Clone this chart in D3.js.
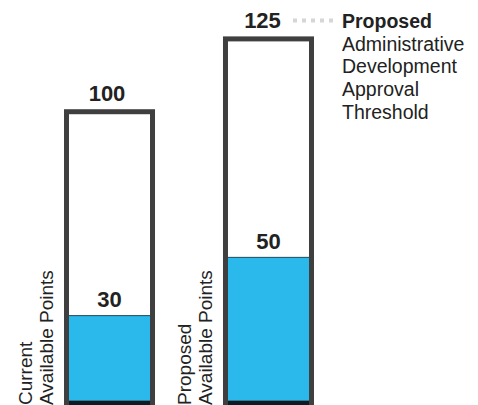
<!DOCTYPE html>
<html>
<head>
<meta charset="utf-8">
<script src="https://cdn.jsdelivr.net/npm/d3@7"></script>
<style>
  html, body { margin: 0; padding: 0; background: #fff; }
  svg { display: block; }
  text { font-family: "Liberation Sans", Arial, Helvetica, sans-serif; fill: #222; }
</style>
</head>
<body>
<svg id="chart" width="478" height="405"></svg>
<script>
// ---- data ----
const categories = ["Current", "Proposed"];
const categoryLines = [["Current", "Available Points"], ["Proposed", "Available Points"]];
const availablePoints = [30, 50];
const thresholds = [100, 125];
const legendLines = ["Proposed", "Administrative", "Development", "Approval", "Threshold"];

// ---- layout ----
const svg = d3.select("#chart");
const x = d3.scaleBand().domain(categories).range([66.5, 311.5]).paddingInner(0.459).paddingOuter(0);
const y = d3.scaleLinear().domain([0, 125]).range([403, 38.9]);
const base = y(0);

const rows = categories.map((c, i) => ({ c, v: availablePoints[i], t: thresholds[i], lines: categoryLines[i] }));

// fills
svg.selectAll("rect.fill").data(rows).join("rect")
  .attr("class", "fill")
  .attr("x", d => x(d.c))
  .attr("width", x.bandwidth())
  .attr("y", d => y(d.v))
  .attr("height", d => base - y(d.v))
  .attr("fill", "#2bb8ea")
  .attr("stroke", "#1f4a5c")
  .attr("stroke-width", 1);

// frames
svg.selectAll("rect.frame").data(rows).join("rect")
  .attr("class", "frame")
  .attr("x", d => x(d.c))
  .attr("width", x.bandwidth())
  .attr("y", d => y(d.t))
  .attr("height", d => base - y(d.t))
  .attr("fill", "none")
  .attr("stroke", "#3f3f3f")
  .attr("stroke-width", 5);

// dark bottom edge
svg.selectAll("line.bottom").data(rows).join("line")
  .attr("class", "bottom")
  .attr("x1", d => x(d.c) + 2.5)
  .attr("x2", d => x(d.c) + x.bandwidth() - 2.5)
  .attr("y1", base).attr("y2", base)
  .attr("stroke", "#0c1c24").attr("stroke-width", 4);

// threshold labels
svg.selectAll("text.tlab").data(rows).join("text")
  .attr("class", "tlab")
  .attr("x", (d, i) => x(d.c) + x.bandwidth() / 2 - (i === 1 ? 6 : 2.5))
  .attr("y", d => y(d.t) - 11)
  .attr("text-anchor", "middle")
  .style("font-weight", "bold")
  .style("font-size", "22px")
  .text(d => d.t);

// value labels
svg.selectAll("text.vlab").data(rows).join("text")
  .attr("class", "vlab")
  .attr("x", d => x(d.c) + x.bandwidth() / 2)
  .attr("y", d => y(d.v) - 8.5)
  .attr("text-anchor", "middle")
  .style("font-weight", "bold")
  .style("font-size", "22px")
  .text(d => d.v);

// rotated category labels
const cl = svg.selectAll("text.clab").data(rows).join("text")
  .attr("class", "clab")
  .attr("transform", d => `translate(${x(d.c) - 34.8},${405}) rotate(-90)`)
  .style("font-size", "19px");
cl.selectAll("tspan").data(d => d.lines).join("tspan")
  .attr("x", 0)
  .attr("y", (d, i) => i * 21.8)
  .text(d => d);

// legend for the proposed threshold
const ly = y(thresholds[1]) - 11;
svg.append("line")
  .attr("x1", 293).attr("x2", 334)
  .attr("y1", ly - 7.5).attr("y2", ly - 7.5)
  .attr("stroke", "#d6d6d6").attr("stroke-width", 4)
  .attr("stroke-dasharray", "4 5");
const lt = svg.append("text").attr("x", 342).attr("y", ly).style("font-size", "19.5px");
lt.selectAll("tspan").data(legendLines).join("tspan")
  .attr("x", 342)
  .attr("y", (d, i) => ly + i * 22.7)
  .style("font-weight", (d, i) => i === 0 ? "bold" : "normal")
  .text(d => d);
</script>
</body>
</html>
